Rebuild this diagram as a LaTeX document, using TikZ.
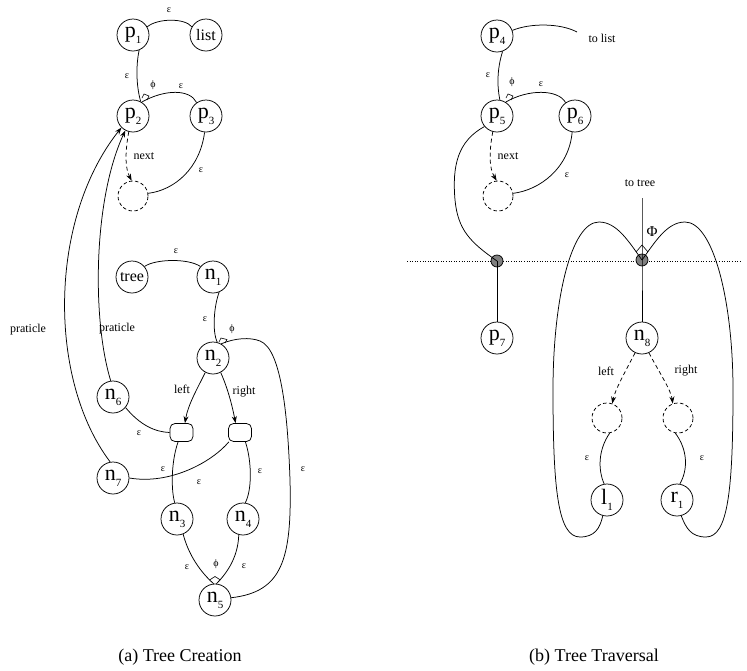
\documentclass[tikz,border=0pt]{standalone}
\usepackage{fontspec}
\setmainfont{Liberation Serif}
\usetikzlibrary{arrows.meta}
\newcommand\sub[2]{#1\raisebox{-0.28em}{\fontsize{11}{11}\selectfont #2}}
\begin{document}
\begin{tikzpicture}[x=1pt,y=-1pt,line width=0.75pt,
  vnode/.style={circle,draw,minimum size=32pt,inner sep=0pt,font=\fontsize{22}{22}\selectfont},
  wnode/.style={circle,draw,minimum size=32pt,inner sep=0pt,font=\fontsize{16}{16}\selectfont},
  hole/.style={circle,draw,dash pattern=on 3.5pt off 2.5pt,minimum size=30pt,inner sep=0pt},
  slot/.style={draw,rounded corners=5pt,minimum width=23pt,minimum height=18pt,inner sep=0pt},
  port/.style={circle,draw,fill=black!50,minimum size=12pt,inner sep=0pt},
  lbl/.style={font=\fontsize{10}{10}\selectfont,inner sep=0pt},
  tag/.style={font=\fontsize{12}{12}\selectfont,inner sep=0pt},
  captext/.style={font=\fontsize{18}{18}\selectfont,inner sep=0pt},
  arr/.style={-{Stealth[length=7pt,width=5pt]}},
  darr/.style={arr,dash pattern=on 4pt off 3pt},
  marker/.style={line width=0.6pt}]
\useasboundingbox (0,0) rectangle (747,670);

% ---------- (a) list part ----------
\node[vnode] (p1) at (133,35) {\sub{p}{1}};
\node[wnode] (list) at (206,35) {list};
\node[vnode] (p2) at (133,116) {\sub{p}{2}};
\node[vnode] (p3) at (206,116) {\sub{p}{3}};
\node[hole] (h1) at (133,196) {};

\draw (p1.30) .. controls (158,18) and (185,18) .. (list.150);
\draw (p1.-68) .. controls (136,65) and (136,85) .. (p2.62);
\draw (p2.58) .. controls (165,89) and (190,89) .. (p3.125);
\draw[marker] (142,98) -- (144,94) -- (149,96) -- (147,100);
\draw (p3.-95) .. controls (200,168) and (175,190) .. (h1.10);
\draw[darr] (p2.-105) .. controls (125,152) and (125,168) .. (h1.95);

\node[lbl] (ea1) at (169,10) {ε};
\node[lbl] (ea2) at (127,76) {ε};
\node[lbl] (fa1) at (153,85) {ϕ};
\node[lbl] (ea3) at (181,86) {ε};
\node[lbl] (ea4) at (201,170) {ε};
\node[tag] (nx1) at (144,156) {next};

% ---------- (a) tree part ----------
\node[wnode] (tree) at (132,277) {tree};
\node[vnode] (n1) at (213,277) {\sub{n}{1}};
\node[vnode] (n2) at (213,358) {\sub{n}{2}};
\node[vnode] (n6) at (113,397) {\sub{n}{6}};
\node[slot] (lb) at (181.5,432.5) {};
\node[slot] (rb) at (240,432.5) {};
\node[vnode] (n7) at (113,478) {\sub{n}{7}};
\node[vnode] (n3) at (177,519) {\sub{n}{3}};
\node[vnode] (n4) at (243,519) {\sub{n}{4}};
\node[vnode] (n5) at (215,600) {\sub{n}{5}};

\draw (tree.40) .. controls (155,259) and (188,258) .. (n1.140);
\draw (n1.-68) .. controls (214,306) and (212,331) .. (n2.75);
\draw (n2.60) .. controls (235,338) and (250,337) .. (260,341)
      .. controls (282,349) and (288,420) .. (290,480)
      .. controls (292,560) and (282,592) .. (n5.8);
\draw[marker] (219,342) -- (221,338) -- (227,339.5) -- (225,343);
\draw[arr] (n2.-118) .. controls (197,389) and (188,405) .. (lb.70);
\draw[arr] (n2.-62) .. controls (228,389) and (232,405) .. (rb.115);
\draw (n6.-40) .. controls (140,425) and (155,432) .. (lb.west);
\draw (lb.-110) .. controls (171,462) and (171,490) .. (n3.98);
\draw (rb.-140) .. controls (212,462) and (170,485) .. (n7.east);
\draw (rb.-60) .. controls (252,462) and (252,490) .. (n4.82);
\draw (n3.-68) .. controls (190,560) and (205,576) .. (n5.95);
\draw (n4.-105) .. controls (238,560) and (224,576) .. (n5.85);
\draw[marker] (209.5,580) -- (215,576.5) -- (220.5,580);
\draw[arr] (n6.98) .. controls (92,320) and (93,200) .. (p2.-118);
\draw[arr] (n7.100) .. controls (48,380) and (48,220) .. (p2.-135);

\node[lbl] (eb1) at (176,251) {ε};
\node[lbl] (eb2) at (205,319) {ε};
\node[lbl] (fb1) at (232,329) {ϕ};
\node[tag] (lf1) at (182,389) {left};
\node[tag] (rt1) at (244,392) {right};
\node[lbl] (eb3) at (139,433) {ε};
\node[lbl] (eb4) at (163,469) {ε};
\node[lbl] (eb5) at (199,482) {ε};
\node[lbl] (eb6) at (260,471) {ε};
\node[lbl] (eb7) at (303,469) {ε};
\node[lbl] (eb8) at (187,567) {ε};
\node[lbl] (fb2) at (216,564) {ϕ};
\node[lbl] (eb9) at (244,566) {ε};
\node[tag] (pr1) at (117,329) {praticle};
\node[tag] (pr2) at (28,330) {praticle};

% ---------- (b) list part ----------
\node[vnode] (p4) at (497,36) {\sub{p}{4}};
\node[vnode] (p5) at (497,116) {\sub{p}{5}};
\node[vnode] (p6) at (575,116) {\sub{p}{6}};
\node[hole] (h2) at (498,196) {};
\coordinate (tl) at (577,32);
\node[tag] (tolist) at (602,38) {to list};

\draw (p4.20) .. controls (530,23) and (560,23) .. (tl);
\draw (p4.-70) .. controls (497,69) and (497,86) .. (p5.80);
\draw (p5.58) .. controls (528,89) and (558,89) .. (p6.125);
\draw[marker] (506,98) -- (508,94) -- (513,96) -- (511,100);
\draw (p6.-100) .. controls (569,168) and (540,190) .. (h2.10);
\draw[darr] (p5.-105) .. controls (489,152) and (489,168) .. (h2.95);

\node[lbl] (ec1) at (488,75) {ε};
\node[lbl] (fc1) at (512,82) {ϕ};
\node[lbl] (ec2) at (541,84) {ε};
\node[lbl] (ec3) at (567,175) {ε};
\node[tag] (nx2) at (508,156) {next};

% ---------- (b) traversal part ----------
\draw[dotted,line width=0.6pt] (407,261) -- (740,261);
\node[port] (ga) at (497,261) {};
\node[port] (gb) at (642,260) {};
\node[vnode] (p7) at (497,338) {\sub{p}{7}};
\node[vnode] (n8) at (642,338) {\sub{n}{8}};
\node[hole] (h3) at (607,418) {};
\node[hole] (h4) at (678,418) {};
\node[vnode] (l1) at (607,500) {\sub{l}{1}};
\node[vnode] (r1) at (677,500) {\sub{r}{1}};
\coordinate (tt) at (642,198);
\node[tag] (totree) at (640,183) {to tree};

\draw (p5.-140) .. controls (458,141) and (452,165) .. (455,200)
      .. controls (458,230) and (470,242) .. (ga.center);
\draw (ga.center) -- (p7);
\draw (tt) -- (gb.center) -- (n8);
\draw (gb.center) .. controls (629,242) and (617,222) .. (599,222)
      .. controls (571,222) and (553,300) .. (553,390)
      .. controls (553,490) and (558,537) .. (580,537)
      .. controls (595,537) and (600,528) .. (l1.-105);
\draw (gb.center) .. controls (655,242) and (667,222) .. (685,222)
      .. controls (713,222) and (733,300) .. (733,390)
      .. controls (733,490) and (728,537) .. (706,537)
      .. controls (691,537) and (686,528) .. (r1.-75);
\draw[marker] (636,252) -- (642,245) -- (648,252);
\draw[darr] (n8.-115) .. controls (625,372) and (615,390) .. (h3.70);
\draw[darr] (n8.-65) .. controls (659,372) and (671,390) .. (h4.110);
\draw (h3.-80) .. controls (598,450) and (598,470) .. (l1.100);
\draw (h4.-100) .. controls (688,450) and (688,470) .. (r1.80);

\node[font=\fontsize{15}{15}\selectfont,inner sep=0pt] (phi) at (652,232) {Φ};
\node[tag] (lf2) at (606,371) {left};
\node[tag] (rt2) at (686,371) {right};
\node[lbl] (ed1) at (587,458) {ε};
\node[lbl] (ed2) at (702,458) {ε};

% ---------- captions ----------
\node[captext] (capa) at (180,657) {(a) Tree Creation};
\node[captext] (capb) at (594,657) {(b) Tree Traversal};
\end{tikzpicture}
\end{document}
